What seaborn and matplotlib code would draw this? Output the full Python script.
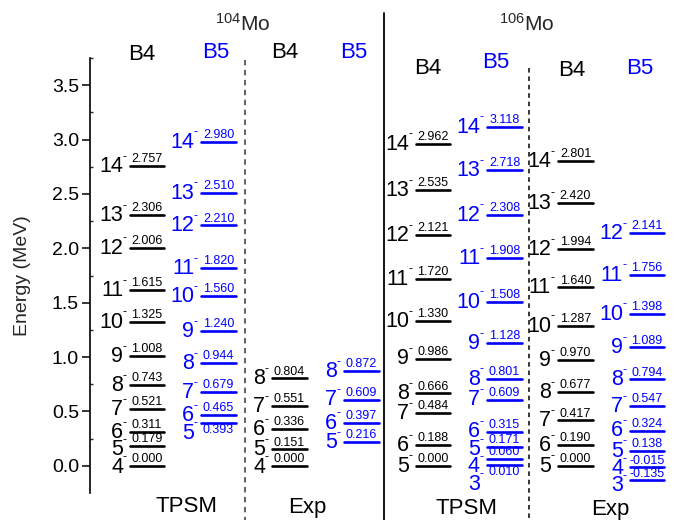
import matplotlib
matplotlib.use("Agg")
import matplotlib.pyplot as plt
from matplotlib.lines import Line2D
import seaborn as sns
import pandas as pd

# ---------------- data ----------------
mo104_tpsm_b4_spins = [4, 5, 6, 7, 8, 9, 10, 11, 12, 13, 14]
mo104_tpsm_b4_e = [0.000, 0.179, 0.311, 0.521, 0.743, 1.008, 1.325, 1.615, 2.006, 2.306, 2.757]
mo104_tpsm_b5_spins = [5, 6, 7, 8, 9, 10, 11, 12, 13, 14]
mo104_tpsm_b5_e = [0.393, 0.465, 0.679, 0.944, 1.240, 1.560, 1.820, 2.210, 2.510, 2.980]
mo104_exp_b4_spins = [4, 5, 6, 7, 8]
mo104_exp_b4_e = [0.000, 0.151, 0.336, 0.551, 0.804]
mo104_exp_b5_spins = [5, 6, 7, 8]
mo104_exp_b5_e = [0.216, 0.397, 0.609, 0.872]

mo106_tpsm_b4_spins = [5, 6, 7, 8, 9, 10, 11, 12, 13, 14]
mo106_tpsm_b4_e = [0.000, 0.188, 0.484, 0.666, 0.986, 1.330, 1.720, 2.121, 2.535, 2.962]
mo106_tpsm_b5_spins = [3, 4, 5, 6, 7, 8, 9, 10, 11, 12, 13, 14]
mo106_tpsm_b5_e = [0.010, 0.060, 0.171, 0.315, 0.609, 0.801, 1.128, 1.508, 1.908, 2.308, 2.718, 3.118]
mo106_exp_b4_spins = [5, 6, 7, 8, 9, 10, 11, 12, 13, 14]
mo106_exp_b4_e = [0.000, 0.190, 0.417, 0.677, 0.970, 1.287, 1.640, 1.994, 2.420, 2.801]
mo106_exp_b5_spins = [3, 4, 5, 6, 7, 8, 9, 10, 11, 12]
mo106_exp_b5_e = [-0.135, -0.015, 0.138, 0.324, 0.547, 0.794, 1.089, 1.398, 1.756, 2.141]

y_ticks = [0.0, 0.5, 1.0, 1.5, 2.0, 2.5, 3.0, 3.5]

# ---------------- layout / style ----------------
W, H = 678, 520
BLUE = "#0000ff"
colors = {"B4": "black", "B5": BLUE}

# (band, spins, energies, x-start, x-end) -- column placement in pixel-like units
columns = [
    ("B4", mo104_tpsm_b4_spins, mo104_tpsm_b4_e, 130, 164),
    ("B5", mo104_tpsm_b5_spins, mo104_tpsm_b5_e, 201, 236),
    ("B4", mo104_exp_b4_spins, mo104_exp_b4_e, 272, 307),
    ("B5", mo104_exp_b5_spins, mo104_exp_b5_e, 344, 379),
    ("B4", mo106_tpsm_b4_spins, mo106_tpsm_b4_e, 416, 450),
    ("B5", mo106_tpsm_b5_spins, mo106_tpsm_b5_e, 487, 522),
    ("B4", mo106_exp_b4_spins, mo106_exp_b4_e, 558, 593),
    ("B5", mo106_exp_b5_spins, mo106_exp_b5_e, 630, 664),
]

sns.set_theme(style="ticks")
plt.rcParams["font.family"] = ["Liberation Sans", "DejaVu Sans"]
plt.rcParams["mathtext.fontset"] = "custom"
plt.rcParams["mathtext.rm"] = "Liberation Sans"

fig = plt.figure(figsize=(W / 100, H / 100), dpi=100)
ax = fig.add_axes([90 / W, 27 / H, (W - 90) / W, 435 / H])

def fx(x):
    return x / W

def fy(y):
    return 1 - y / H

# level lines via seaborn
rows = []
uid = 0
for band, spins, ens, x0, x1 in columns:
    for s, e in zip(spins, ens):
        rows.append({"x": x0, "E": e, "band": band, "uid": uid})
        rows.append({"x": x1, "E": e, "band": band, "uid": uid})
        uid += 1
df = pd.DataFrame(rows)
sns.lineplot(data=df, x="x", y="E", hue="band", units="uid", estimator=None,
             palette=colors, linewidth=1.9, legend=False, sort=False, ax=ax)

# labels
GAP = 0.16
for band, spins, ens, x0, x1 in columns:
    c = colors[band]
    n = len(ens)
    # spin label centers, pushed apart from top to bottom
    centers = [0.0] * n
    prev = None
    for i in range(n - 1, -1, -1):
        t = ens[i] + 0.02
        if prev is not None:
            t = min(t, prev - GAP)
        centers[i] = t
        prev = t
    for i in range(n):
        e = ens[i]
        base = centers[i] - 0.074
        ax.text(x0 - 7, base, str(spins[i]), ha="right", va="baseline",
                fontsize=15.5, color=c)
        ax.text(x0 - 7.5, base + 0.112, "-", ha="left", va="baseline",
                fontsize=9, color=c)
        # value label: above line unless next level is very close
        below = (i < n - 1) and (ens[i + 1] - e < 0.09)
        if below:
            ax.text((x0 + x1) / 2, e - 0.012, f"{e:.3f}", ha="center", va="top",
                    fontsize=9, color=c)
        else:
            ax.text((x0 + x1) / 2, e + 0.008, f"{e:.3f}", ha="center", va="bottom",
                    fontsize=9, color=c)

# axes styling
ax.set_xlim(90, W)
ax.set_ylim(-0.25, 3.75)
ax.set_yticks(y_ticks)
ax.set_yticklabels([f"{v:.1f}" for v in y_ticks])
ax.set_yticks([v + 0.25 for v in y_ticks], minor=True)
ax.tick_params(axis="y", which="major", direction="out", length=6, width=1.1,
               labelsize=14, pad=2, colors="black")
ax.tick_params(axis="y", which="minor", direction="in", length=2.5, width=1.0, left=True)
ax.set_xticks([])
ax.set_xlabel("")
ax.set_ylabel("Energy (MeV)", fontsize=14)
ax.yaxis.set_label_coords(-0.1, 0.5)
for side in ["top", "right", "bottom"]:
    ax.spines[side].set_visible(False)
ax.spines["left"].set_linewidth(1.2)
ax.spines["left"].set_color("black")
ax.set_facecolor("none")

# separators
fig.add_artist(Line2D([fx(384), fx(384)], [fy(13), fy(520)], transform=fig.transFigure,
                      color="black", lw=1.3))
fig.add_artist(Line2D([fx(245), fx(245)], [fy(60), fy(520)], transform=fig.transFigure,
                      color="#555555", lw=1.3, linestyle=(0, (3, 2.5))))
fig.add_artist(Line2D([fx(529), fx(529)], [fy(68), fy(520)], transform=fig.transFigure,
                      color="black", lw=1.1, linestyle=(0, (3, 2.5))))

# headings
fig.text(fx(243), fy(24), r"$\mathregular{^{104}}$Mo", ha="center", va="center", fontsize=15)
fig.text(fx(527), fy(24), r"$\mathregular{^{106}}$Mo", ha="center", va="center", fontsize=15)
for x, y, t in [(142, 55, "B4"), (216, 52, "B5"), (285, 52, "B4"), (354, 52, "B5"),
                (428, 68, "B4"), (496, 63, "B5"), (572, 70, "B4"), (640, 68, "B5")]:
    fig.text(fx(x), fy(y), t, ha="center", va="center", fontsize=16,
             color=colors[t])
for x, y, t in [(187, 507, "TPSM"), (307, 507, "Exp"), (467, 509, "TPSM"), (610, 509, "Exp")]:
    fig.text(fx(x), fy(y), t, ha="center", va="center", fontsize=16, color="black")

fig.savefig("out.png", dpi=100)
